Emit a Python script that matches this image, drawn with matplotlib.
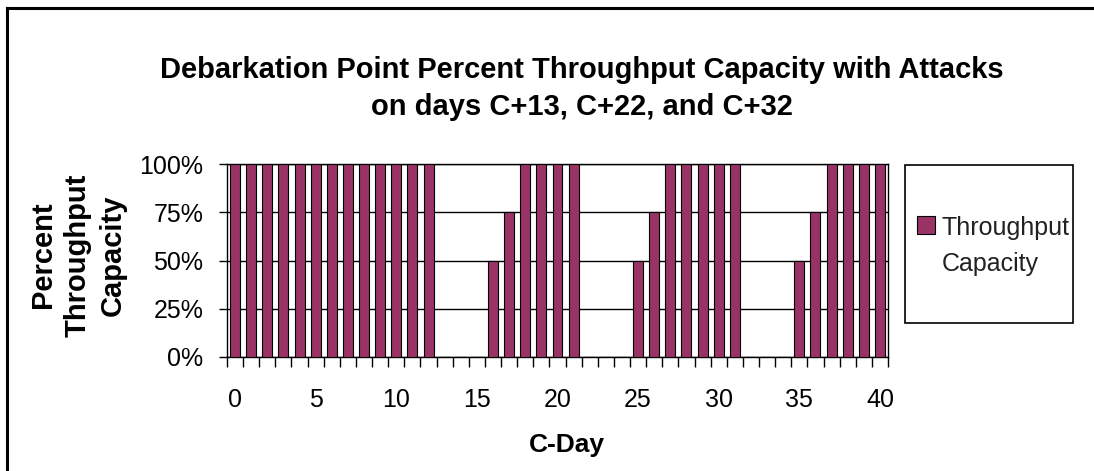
import matplotlib
matplotlib.use("Agg")
import matplotlib.pyplot as plt
from matplotlib.lines import Line2D
from matplotlib.patches import Rectangle

# C-Day and percent throughput capacity (attacks on C+13, C+22, C+32)
days = list(range(0, 41))
capacity = [100] * 13 + [0, 0, 0, 50, 75, 100, 100, 100, 100] + \
    [0, 0, 0, 50, 75, 100, 100, 100, 100, 100] + [0, 0, 0, 50, 75, 100, 100, 100, 100]
y_ticks = [0, 25, 50, 75, 100]
x_labels = [0, 5, 10, 15, 20, 25, 30, 35, 40]
series_name = "Throughput\nCapacity"

plt.rcParams['font.family'] = ['Liberation Sans', 'DejaVu Sans']

W, H = 1094, 471
fig = plt.figure(figsize=(W / 100, H / 100), dpi=100)
ax = fig.add_axes([227 / W, 1 - 357 / H, (888 - 227) / W, (357 - 164) / H])

bars = ax.bar(days, capacity, width=0.62, color='#993366', edgecolor='black',
              linewidth=0.8, label=series_name, zorder=3)

ax.set_xlim(-0.5, 40.5)
ax.set_ylim(0, 100)
ax.set_yticks(y_ticks)
ax.set_yticklabels([f"{v}%" for v in y_ticks])
ax.set_xticks(x_labels)
ax.set_xticks([d - 0.5 for d in days] + [40.5], minor=True)
ax.tick_params(axis='x', which='major', length=0, pad=22, labelsize=18)
ax.tick_params(axis='x', which='minor', length=7, width=1, direction='out', color='black')
ax.tick_params(axis='y', length=6, width=1, direction='out', pad=11, labelsize=18)
ax.yaxis.grid(True, color='black', linewidth=1, zorder=0)
ax.set_axisbelow(True)
for s in ax.spines.values():
    s.set_color('black')
    s.set_linewidth(1)

# titles and axis labels
fig.text(582 / W, 1 - 70 / H, "Debarkation Point Percent Throughput Capacity with Attacks",
         ha='center', va='center', fontsize=21, fontweight='bold')
fig.text(582 / W, 1 - 107 / H, "on days C+13, C+22, and C+32",
         ha='center', va='center', fontsize=21, fontweight='bold')
fig.text(567 / W, 1 - 445 / H, "C-Day", ha='center', va='center',
         fontsize=19, fontweight='bold')
fig.text(78 / W, 1 - 255 / H, "Percent\nThroughput\nCapacity", ha='center', va='center',
         rotation=90, multialignment='center', fontsize=21, fontweight='bold',
         linespacing=1.3)

# legend with its box
fig.patches.append(Rectangle((905 / W, 1 - 323 / H), (1073 - 905) / W, (323 - 165) / H,
                             transform=fig.transFigure, fill=False, edgecolor='black',
                             linewidth=1.2))
leg = fig.legend(handles=[bars], labels=[series_name], loc='upper left',
                 bbox_to_anchor=(917 / W, 1 - 216 / H), frameon=False, fontsize=18,
                 borderpad=0, borderaxespad=0,
                 handlelength=0.7, handleheight=0.7, handletextpad=0.3)
for t in leg.get_texts():
    t.set_linespacing(1.65)
    t.set_color('#222222')
# put the colour box next to the first line of the label
for col in leg._legend_handle_box.get_children():
    for row in col.get_children():
        row.align = 'top'

# outer border (left and top only)
fig.add_artist(Line2D([7 / W, 7 / W], [0, 1 - 8 / H], transform=fig.transFigure,
                      color='black', linewidth=2.2))
fig.add_artist(Line2D([7 / W, 1], [1 - 8 / H, 1 - 8 / H], transform=fig.transFigure,
                      color='black', linewidth=2.2))

fig.savefig("out.png", dpi=100)
